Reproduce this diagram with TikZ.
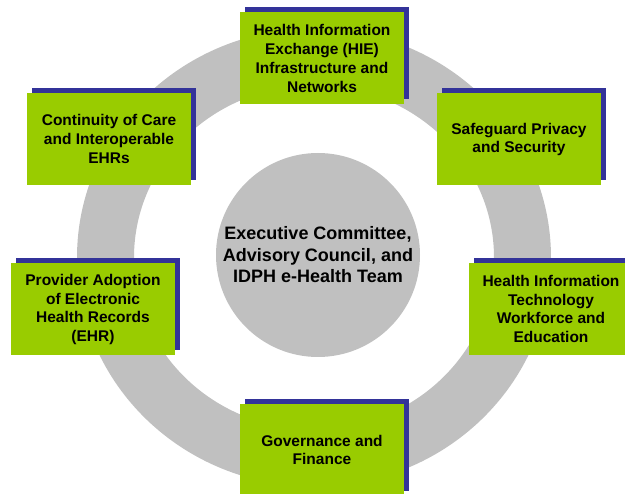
\documentclass[tikz,border=0pt]{standalone}
\usepackage{fontspec}
\setmainfont{Liberation Sans}
\usetikzlibrary{shadows}

\definecolor{boxgreen}{RGB}{153,204,0}
\definecolor{shadowblue}{RGB}{51,51,153}
\definecolor{ringgray}{RGB}{192,192,192}

\tikzset{
  goal/.style={rectangle, fill=boxgreen, minimum width=164pt, minimum height=92pt,
    inner sep=0pt, align=center, font=\bfseries\fontsize{15.5}{18.7}\selectfont,
    general shadow={fill=shadowblue, shadow xshift=5pt, shadow yshift=5pt}},
  hub/.style={circle, fill=ringgray, minimum size=204pt, inner sep=0pt,
    align=center, font=\bfseries\fontsize{18}{21.5}\selectfont}
}

\begin{document}
\begin{tikzpicture}[x=1pt, y=-1pt]

    \useasboundingbox (0,0) rectangle (625,494);
    \clip (0,0) rectangle (625,494);

    % ring behind the boxes
    \fill[ringgray, even odd rule] (314,257.5) ellipse [x radius=237pt, y radius=229pt]
                                   (314,257.5) ellipse [x radius=180pt, y radius=172pt];

    \node[hub] (team) at (318,255) {Executive Committee,\\Advisory Council, and\\IDPH e-Health Team};

    \node[goal] (hie) at (322,58.5) {Health Information\\Exchange (HIE)\\Infrastructure and\\Networks};
    \node[goal] (privacy) at (519,139.5) {Safeguard Privacy\\and Security};
    \node[goal] (workforce) at (551,309) {Health Information\\Technology\\Workforce and\\Education};
    \node[goal] (governance) at (322,450) {Governance and\\Finance};
    \node[goal] (adoption) at (93,309.5) {Provider Adoption\\of Electronic\\Health Records\\(EHR)};
    \node[goal] (continuity) at (109,139) {Continuity of Care\\and Interoperable\\EHRs};

\end{tikzpicture}
\end{document}
